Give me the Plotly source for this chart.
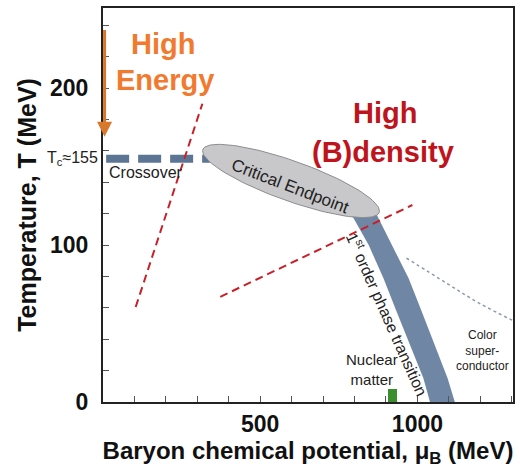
import numpy as np
import plotly.graph_objects as go

# ---- axis ticks ---------------------------------------------------------
mu_ticks = [500, 1000]
mu_minor_step = 100
T_ticks = [0, 100, 200]
T_minor_step = 20

# ---- phase-diagram curves (mu_B in MeV, T in MeV) -------------------------
T_c = 155
crossover_mu = [10, 340]
crossover_T = [T_c, T_c]

# first-order transition band: left and right edges
band_T_left = [121.0, 117.0, 100.0, 78.8, 57.5, 36.3, 15.1, 0]
band_mu_left = [778, 797, 845, 892, 934, 977, 1019, 1040]
band_T_right = [125.5, 119.1, 100.0, 78.8, 57.5, 36.3, 15.1, 0]
band_mu_right = [845, 871, 919, 972, 1014, 1056, 1096, 1119]

# colour-superconductor boundary
csc_mu = [965, 1092, 1196, 1323]
csc_T = [91.7, 75.8, 63.0, 50.0]

# red dashed guide lines
guide1_mu = [104, 316]
guide1_T = [60.5, 190]
guide2_mu = [373, 984]
guide2_T = [67, 125.5]

# critical endpoint region (centre)
cep_mu = 598
cep_T = 140.8

# nuclear matter ground state
nuc_mu = [921]
nuc_T = [8]

# ---- geometry ------------------------------------------------------------
W, H = 520, 468
ML, MR, MT, MB = 103, 5, 8, 66
x_range = [0, 1304]
y_range = [0, 251]
pw, ph = W - ML - MR, H - MT - MB
sx = pw / (x_range[1] - x_range[0])   # px per MeV (mu)
sy = ph / (y_range[1] - y_range[0])   # px per MeV (T)

FONT = "Liberation Sans, Arial, Helvetica, sans-serif"
BAND = "#6F87A4"
DASH_BLUE = "#5D7595"
RED = "#C8202A"

fig = go.Figure()

# first-order band
fig.add_trace(go.Scatter(
    x=band_mu_left + band_mu_right[::-1],
    y=band_T_left + band_T_right[::-1],
    fill="toself", fillcolor=BAND, mode="lines",
    line=dict(color=BAND, width=0),
    hoverinfo="skip", showlegend=False))

# crossover (dashed) at T_c
fig.add_trace(go.Scatter(
    x=crossover_mu, y=crossover_T, mode="lines",
    line=dict(color=DASH_BLUE, width=8, dash="23px,9px"),
    hoverinfo="skip", showlegend=False))

# critical endpoint ellipse (semi-axes / tilt in screen pixels)
a_px, b_px, tilt = 94, 20, np.deg2rad(19.5)
t = np.linspace(0, 2 * np.pi, 121)
u, v = a_px * np.cos(t), b_px * np.sin(t)
dx = u * np.cos(tilt) - v * np.sin(tilt)
dy = u * np.sin(tilt) + v * np.cos(tilt)
fig.add_trace(go.Scatter(
    x=cep_mu + dx / sx, y=cep_T - dy / sy,
    fill="toself", fillcolor="#C8C8CA", mode="lines",
    line=dict(color="#8C8C90", width=1),
    hoverinfo="skip", showlegend=False))

# colour superconductor boundary
fig.add_trace(go.Scatter(
    x=csc_mu, y=csc_T, mode="lines",
    line=dict(color="#8E9AAA", width=1.5, dash="dot", shape="spline"),
    hoverinfo="skip", showlegend=False))

# red dashed guides
for gx, gy in ((guide1_mu, guide1_T), (guide2_mu, guide2_T)):
    fig.add_trace(go.Scatter(
        x=gx, y=gy, mode="lines",
        line=dict(color=RED, width=2, dash="8px,5px"),
        hoverinfo="skip", showlegend=False))

# nuclear matter marker
fig.add_trace(go.Bar(
    x=nuc_mu, y=nuc_T, width=26, marker=dict(color="#3B8E2F", line=dict(width=0)),
    hoverinfo="skip", showlegend=False))


def ann(text, x, y, size, color="#222", bold=False, angle=0, **kw):
    fig.add_annotation(
        text=text, x=x, y=y, xref="x", yref="y", showarrow=False,
        textangle=angle,
        font=dict(family=FONT, size=size, color=color,
                  weight="bold" if bold else "normal"), **kw)


# orange arrow (heating at low mu_B)
fig.add_annotation(
    x=5, y=169, ax=5, ay=238, xref="x", yref="y", axref="x", ayref="y",
    text="", showarrow=True, arrowhead=2, arrowsize=1.0, arrowwidth=3,
    arrowcolor="#D8782C")

ann("High", 190, 228, 29, color="#F27A2E", bold=True)
ann("Energy", 196, 205, 29, color="#F27A2E", bold=True)
ann("High", 896, 184, 29, color="#C0141C", bold=True)
ann("(B)density", 889, 159, 29, color="#C0141C", bold=True)
ann("Crossover", 13, 146.5, 16, xanchor="left")
ann("Critical Endpoint", 596, 137, 17, angle=21)
ann("1<sup>st</sup> order phase transition", 905, 56, 16, angle=66)
ann("Nuclear<br>matter", 857, 21, 15)
ann("Color<br>super-<br>conductor", 1206, 32.5, 12)

fig.add_annotation(
    text="T<sub>c</sub>≈155", x=-0.008, y=T_c, xref="paper", yref="y",
    xanchor="right", showarrow=False,
    font=dict(family=FONT, size=16, color="#222"))

axis_common = dict(
    showline=True, linecolor="#222", linewidth=2, mirror=True,
    ticks="inside", ticklen=6, tickwidth=1, tickcolor="#555",
    showgrid=False, zeroline=False,
    tickfont=dict(family=FONT, size=23, color="#111", weight="bold"),
)

fig.update_layout(
    width=W, height=H,
    margin=dict(l=ML, r=MR, t=MT, b=MB),
    paper_bgcolor="white", plot_bgcolor="white",
    bargap=0,
    xaxis=dict(range=x_range, tickmode="array", tickvals=mu_ticks,
               minor=dict(ticks="inside", ticklen=6, tickwidth=1,
                          tickcolor="#555", tick0=0, dtick=mu_minor_step),
               title=dict(text="Baryon chemical potential, μ<sub>B</sub> (MeV)",
                          font=dict(family=FONT, size=24, color="#111",
                                    weight="bold"), standoff=3),
               **axis_common),
    yaxis=dict(range=y_range, tickmode="array", tickvals=T_ticks,
               ticklabelstandoff=8,
               minor=dict(ticks="inside", ticklen=6, tickwidth=1,
                          tickcolor="#555", tick0=0, dtick=T_minor_step),
               title=dict(text="Temperature, T (MeV)",
                          font=dict(family=FONT, size=25, color="#111",
                                    weight="bold"), standoff=6),
               **axis_common),
)

fig.write_html("out.html")
